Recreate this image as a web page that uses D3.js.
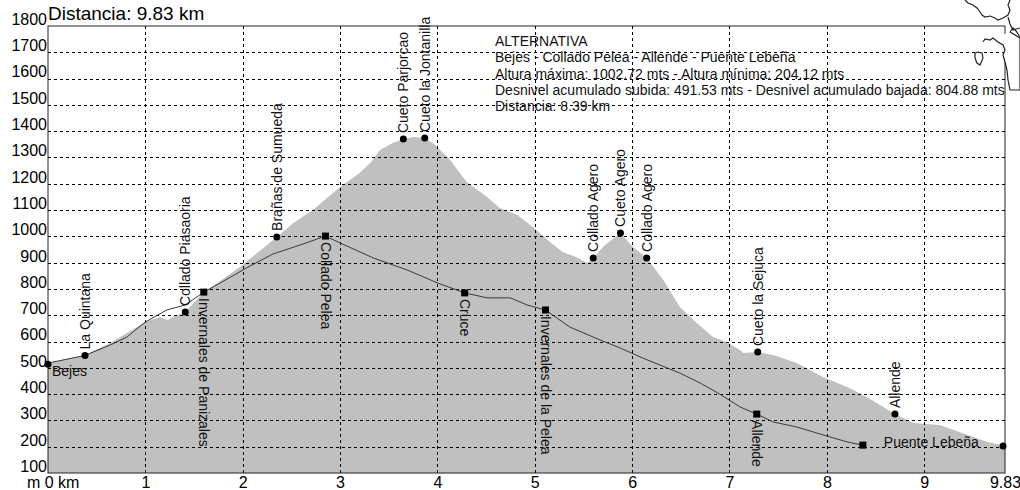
<!DOCTYPE html>
<html>
<head>
<meta charset="utf-8">
<script src="https://cdn.jsdelivr.net/npm/d3@7/dist/d3.min.js"></script>
<style>
  body { margin: 0; background: #fff; }
  svg { font-family: "Liberation Sans", Arial, sans-serif; }
  .grid line { stroke: #000; stroke-dasharray: 3,3; shape-rendering: crispEdges; }
  .grid path { display: none; }
  .axis path, .axis line { display: none; }
  .axis text { font-size: 16px; fill: #000; }
  .lbl { font-size: 14px; fill: #111; }
  .info { font-size: 14px; fill: #111; }
</style>
</head>
<body>
<svg id="chart" width="1020" height="490"></svg>
<script>
// main route profile (grey area): km / metres
var profileKm   = [0, 0.38, 0.64, 0.81, 1.00, 1.15, 1.23, 1.28, 1.41, 1.59, 1.74, 1.97, 2.15, 2.35, 2.52, 2.72, 3.00, 3.20, 3.31, 3.41, 3.54, 3.65, 3.75, 3.87, 3.97, 4.13, 4.30, 4.51, 4.64, 4.82, 4.98, 5.16, 5.29, 5.43, 5.54, 5.60, 5.72, 5.88, 6.01, 6.15, 6.32, 6.49, 6.63, 6.83, 6.97, 7.11, 7.14, 7.29, 7.45, 7.69, 7.96, 8.21, 8.41, 8.70, 8.89, 9.16, 9.44, 9.65, 9.83];
var profileElev = [518, 549, 594, 632, 674, 693, 682, 693, 712, 785, 823, 883, 937, 998, 1051, 1100, 1188, 1241, 1279, 1328, 1355, 1370, 1378, 1374, 1350, 1290, 1207, 1150, 1108, 1081, 1036, 978, 940, 921, 899, 918, 967, 1013, 959, 918, 834, 731, 682, 617, 598, 568, 556, 560, 549, 518, 465, 427, 389, 324, 290, 283, 245, 218, 203];

// alternative route (thin line)
var altKm   = [0, 0.38, 0.64, 0.81, 1.00, 1.22, 1.41, 1.60, 1.77, 2.04, 2.31, 2.59, 2.85, 3.00, 3.34, 3.69, 4.00, 4.28, 4.51, 4.75, 4.92, 5.11, 5.36, 5.67, 5.88, 6.11, 6.49, 6.70, 6.90, 7.11, 7.28, 7.45, 7.69, 7.96, 8.21, 8.37];
var altElev = [518, 547, 587, 617, 674, 720, 739, 788, 823, 880, 933, 967, 1001, 975, 918, 872, 823, 785, 766, 766, 739, 720, 655, 606, 575, 537, 480, 442, 400, 351, 324, 294, 275, 245, 218, 206];

// waypoints: [name, km, metres]
var mainPoints = [
  ["Bejes", 0, 514],
  ["La Quintana", 0.38, 547],
  ["Collado Piasaoria", 1.41, 712],
  ["Brañas de Sumueda", 2.35, 998],
  ["Cueto Parjorcao", 3.65, 1370],
  ["Cueto la Jontanilla", 3.87, 1374],
  ["Collado Agero", 5.60, 918],
  ["Cueto Agero", 5.88, 1013],
  ["Collado Agero", 6.15, 918],
  ["Cueto la Sejuca", 7.29, 560],
  ["Allende", 8.70, 324],
  ["", 9.81, 203]
];
var altPoints = [
  ["Invernales de Panizales", 1.60, 788],
  ["Collado Pelea", 2.85, 1001],
  ["Cruce", 4.28, 785],
  ["Invernales de la Pelea", 5.11, 720],
  ["Allende", 7.28, 324],
  ["Puente Lebeña", 8.37, 206]
];

var yTicks = d3.range(100, 1801, 100);
var xTicks = [1, 2, 3, 4, 5, 6, 7, 8, 9, 9.83];
var title  = "Distancia: 9.83 km";
var infoLines = [
  "ALTERNATIVA",
  "Bejes - Collado Pelea - Allende - Puente Lebeña",
  "Altura máxima: 1002.72 mts - Altura mínima: 204.12 mts",
  "Desnivel acumulado subida: 491.53 mts - Desnivel acumulado bajada: 804.88 mts",
  "Distancia: 8.39 km"
];

// little locator map, top right corner (pixel outline)
var mapShapes = [
  [[965,0],[968,3],[973,5],[977,8],[980,12],[982,15],[985,17],[990,16],[995,18],[998,20],[1003,18],[1008,15],[1010,10],[1008,5],[1010,0]],
  [[1008,17],[1010,24],[1013,30],[1016,29],[1020,28]],
  [[1010,32],[1013,28],[1016,31],[1020,37]],
  [[983,42],[985,39],[990,40],[993,38],[998,42],[1003,45],[1005,50],[1003,55],[1005,62],[1007,70],[1008,80],[1010,90],[1020,90],[1020,38],[1010,32]],
  [[975,53],[978,52],[982,53],[983,58],[980,65],[977,63],[975,58],[975,53]]
];

(function() {
  var svg = d3.select("#chart"),
      pl = 48, pr = 1005, pt = 26, pb = 473;

  var x = d3.scaleLinear().domain([0, 9.83]).range([pl, pr]);
  var y = d3.scaleLinear().domain([100, 1800]).range([pb, pt]);

  var profile = profileKm.map(function(k, i) { return [k, profileElev[i]]; });
  var alt     = altKm.map(function(k, i) { return [k, altElev[i]]; });

  // grey area
  svg.append("path")
      .datum(profile)
      .attr("fill", "#c0c0c0")
      .attr("d", d3.area()
        .x(function(d) { return x(d[0]); })
        .y0(y(100))
        .y1(function(d) { return y(d[1]); }));

  // dashed grid
  svg.append("g")
      .attr("class", "grid")
      .attr("transform", "translate(" + pl + ",0)")
      .call(d3.axisLeft(y)
        .tickValues(d3.range(200, 1701, 100))
        .tickSize(-(pr - pl))
        .tickFormat(""));
  svg.append("g")
      .attr("class", "grid")
      .attr("transform", "translate(0," + pb + ")")
      .call(d3.axisBottom(x)
        .tickValues(d3.range(1, 10))
        .tickSize(-(pb - pt))
        .tickFormat(""));

  // frame
  svg.append("rect")
      .attr("x", pl).attr("y", pt)
      .attr("width", pr - pl).attr("height", pb - pt)
      .attr("fill", "none").attr("stroke", "#222");

  // y labels
  var gy = svg.append("g")
      .attr("class", "axis")
      .attr("transform", "translate(" + (pl - 1) + ",0)")
      .call(d3.axisLeft(y).tickValues(yTicks).tickSize(0).tickPadding(0)
        .tickFormat(d3.format("d")));
  gy.selectAll("text").attr("dy", "-0.1em");

  // x labels
  svg.append("g")
      .attr("class", "axis")
      .attr("transform", "translate(0," + pb + ")")
      .call(d3.axisBottom(x).tickValues(xTicks).tickSize(0).tickPadding(4)
        .tickFormat(function(d) { return d === 9.83 ? "9.83" : d; }));
  svg.append("text")
      .attr("x", x(0) - 21).attr("y", 488)
      .style("font-size", "16px")
      .text("m 0 km");

  // title
  svg.append("text")
      .attr("x", pl).attr("y", 20)
      .style("font-size", "19px")
      .text(title);

  // info block
  svg.append("g").selectAll("text")
      .data(infoLines)
    .enter().append("text")
      .attr("class", "info")
      .attr("x", 495)
      .attr("y", function(d, i) { return 46 + i * 16.3; })
      .text(function(d) { return d; });

  // alternative route line
  svg.append("path")
      .datum(alt)
      .attr("fill", "none")
      .attr("stroke", "#3a3a3a")
      .attr("stroke-width", 1)
      .attr("d", d3.line()
        .x(function(d) { return x(d[0]); })
        .y(function(d) { return y(d[1]); }));

  // main route markers + labels (upwards)
  svg.append("g").selectAll("circle")
      .data(mainPoints)
    .enter().append("circle")
      .attr("cx", function(d) { return x(d[1]); })
      .attr("cy", function(d) { return y(d[2]); })
      .attr("r", 3.5)
      .attr("fill", "#000");

  svg.append("g").selectAll("text")
      .data(mainPoints.filter(function(d, i) { return i > 0 && d[0]; }))
    .enter().append("text")
      .attr("class", "lbl")
      .attr("transform", function(d) {
        return "translate(" + x(d[1]) + "," + (y(d[2]) - 6) + ") rotate(-90)";
      })
      .attr("dy", "0.35em")
      .text(function(d) { return d[0]; });

  svg.append("text")
      .attr("class", "lbl")
      .attr("x", x(mainPoints[0][1]) + 4)
      .attr("y", y(mainPoints[0][2]) + 12)
      .text(mainPoints[0][0]);

  // alternative markers + labels (downwards)
  svg.append("g").selectAll("rect")
      .data(altPoints)
    .enter().append("rect")
      .attr("x", function(d) { return x(d[1]) - 3.5; })
      .attr("y", function(d) { return y(d[2]) - 3.5; })
      .attr("width", 7).attr("height", 7)
      .attr("fill", "#000");

  var last = altPoints.length - 1;
  svg.append("g").selectAll("text")
      .data(altPoints.filter(function(d, i) { return i < last; }))
    .enter().append("text")
      .attr("class", "lbl")
      .attr("transform", function(d) {
        return "translate(" + x(d[1]) + "," + (y(d[2]) + 6) + ") rotate(90)";
      })
      .attr("dy", "0.35em")
      .text(function(d) { return d[0]; });

  svg.append("text")
      .attr("class", "lbl")
      .attr("x", x(altPoints[last][1]) + 21)
      .attr("y", y(altPoints[last][2]) + 2)
      .text(altPoints[last][0]);

  // locator map
  svg.append("g").selectAll("path")
      .data(mapShapes)
    .enter().append("path")
      .attr("d", d3.line())
      .attr("fill", function(d, i) { return i === 3 ? "#fff" : "none"; })
      .attr("stroke", "#222")
      .attr("stroke-width", 1.2);
})();
</script>
</body>
</html>
